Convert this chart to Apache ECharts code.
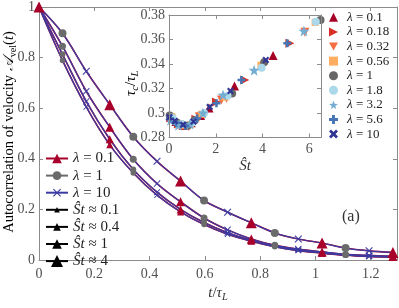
<!DOCTYPE html>
<html><head><meta charset="utf-8">
<script src="https://cdn.jsdelivr.net/npm/echarts@6/dist/echarts.min.js"></script>
<style>html,body{margin:0;padding:0;background:#fff}#c{width:399px;height:308px}</style>
</head><body><div id="c"></div>
<script>
// ---------- main plot data ----------
const tVals   = [0, 0.085, 0.171, 0.256, 0.341, 0.427, 0.512, 0.597, 0.682, 0.768, 0.853, 0.938, 1.024, 1.109, 1.194, 1.28];
const acfSt01 = [1, 0.789, 0.605, 0.455, 0.344, 0.256, 0.190, 0.140, 0.102, 0.074, 0.052, 0.037, 0.027, 0.019, 0.014, 0.011];
const acfSt04 = [1, 0.813, 0.627, 0.477, 0.358, 0.268, 0.200, 0.148, 0.108, 0.078, 0.055, 0.040, 0.029, 0.020, 0.015, 0.012];
const acfSt1  = [1, 0.845, 0.667, 0.525, 0.398, 0.302, 0.230, 0.166, 0.119, 0.083, 0.058, 0.043, 0.032, 0.022, 0.018, 0.015];
const acfSt4  = [1, 0.896, 0.746, 0.614, 0.487, 0.390, 0.312, 0.235, 0.189, 0.147, 0.107, 0.083, 0.067, 0.047, 0.036, 0.030];
const mainLegendNames = ['λ = 0.1', 'λ = 1', 'λ = 10', 'Ŝt ≈ 0.1', 'Ŝt ≈ 0.4', 'Ŝt ≈ 1', 'Ŝt ≈ 4'];

// ---------- inset data (Ŝt, τc/τL) ----------
const insetLabels = ['λ = 0.1', 'λ = 0.18', 'λ = 0.32', 'λ = 0.56', 'λ = 1', 'λ = 1.8', 'λ = 3.2', 'λ = 5.6', 'λ = 10'];
const st_l01  = [0.05, 0.3, 0.6, 0.95, 1.35, 1.71, 2.8, 4.45];
const tau_l01 = [0.297, 0.293, 0.290, 0.292, 0.298, 0.304, 0.322, 0.347];
const st_l018  = [0.08, 0.4, 0.75, 1.15, 2.03, 3.24, 5.17];
const tau_l018 = [0.296, 0.291, 0.2895, 0.295, 0.309, 0.327, 0.357];
const st_l032  = [0.1, 0.45, 0.85, 1.3, 2.24, 2.46, 5.81];
const tau_l032 = [0.295, 0.2905, 0.289, 0.297, 0.3106, 0.312, 0.366];
const st_l056  = [0.12, 0.5, 0.9, 1.4, 2.4, 3.93, 6.25];
const tau_l056 = [0.297, 0.290, 0.2905, 0.299, 0.313, 0.339, 0.374];
const st_l1  = [0.03, 0.35, 0.8, 1.1, 2.7, 4.07, 6.48];
const tau_l1 = [0.298, 0.292, 0.2895, 0.294, 0.316, 0.3414, 0.376];
const st_l18  = [0.15, 0.55, 1.0, 1.5, 2.5, 3.96, 6.28];
const tau_l18 = [0.296, 0.291, 0.292, 0.300, 0.314, 0.337, 0.3745];
const st_l32  = [0.06, 0.4, 0.9, 1.45, 2.31, 3.64, 5.77];
const tau_l32 = [0.294, 0.290, 0.291, 0.300, 0.3147, 0.335, 0.367];
const st_l56  = [0.05, 0.3, 0.7, 1.2, 2.03, 3.1, 5.06];
const tau_l56 = [0.2955, 0.292, 0.2895, 0.2955, 0.308, 0.327, 0.357];
const st_l10  = [0.02, 0.25, 0.6, 1.05, 1.74, 2.63, 4.14];
const tau_l10 = [0.2965, 0.2935, 0.2905, 0.293, 0.305, 0.318, 0.3433];

// ---------- styling ----------
const SERIF = 'Liberation Serif';
const RED = '#a8002a', GRAY = '#6b6b6b', BLUE = '#3b3ba3';
const AX = '#8c8c8c', LBL = '#505050';
const xThin = 'path://M0,1L1,0L5,4L9,0L10,1L6,5L10,9L9,10L5,6L1,10L0,9L4,5Z';
const xBold = 'path://M0,2.2L2.2,0L5,2.8L7.8,0L10,2.2L7.2,5L10,7.8L7.8,10L5,7.2L2.2,10L0,7.8L2.8,5Z';
const plusP = 'path://M3.4,0H6.6V3.4H10V6.6H6.6V10H3.4V6.6H0V3.4H3.4Z';
const starP = 'path://M5,0L6.176,3.382L9.755,3.455L6.902,5.618L7.939,9.045L5,7L2.061,9.045L3.098,5.618L0.245,3.455L3.824,3.382Z';
const triR = 'path://M0,0L10,5L0,10Z';
const triD = 'path://M0,0L10,0L5,9Z';

const chart = echarts.init(document.getElementById('c'), null, {renderer: 'canvas'});

function axisCommon(extra) {
  return Object.assign({
    axisLine: {show: true, onZero: false, lineStyle: {color: AX, width: 1}},
    axisTick: {show: true, inside: true, length: 4, lineStyle: {color: AX}},
    splitLine: {show: false},
    axisLabel: {show: false}
  }, extra);
}
const lblStyle = (m) => ({show: true, margin: m, color: LBL, fontFamily: SERIF, fontSize: 14,
  formatter: v => String(+v.toFixed(4)), showMaxLabel: false, showMinLabel: true});

const rich = (fs, col) => ({
  n: {fontFamily: SERIF, fontSize: fs, color: col},
  i: {fontFamily: SERIF, fontSize: fs, fontStyle: 'italic', color: col},
  c: {fontFamily: SERIF, fontSize: fs, fontStyle: 'italic', color: col},
  s: {fontFamily: SERIF, fontSize: fs * 0.7, fontStyle: 'italic', color: col, padding: [fs * 0.55, 0, 0, 0]},
  su: {fontFamily: SERIF, fontSize: fs * 0.7, color: col, padding: [fs * 0.55, 0, 0, 0]}
});

const series = [];
const curves = [
  {v: acfSt01, r: 7, g: 5.5, b: 6},
  {v: acfSt04, r: 8, g: 6, b: 6.5},
  {v: acfSt1, r: 9, g: 7, b: 7},
  {v: acfSt4, r: 11, g: 8, b: 7.5}
];
curves.forEach(c => series.push({type: 'line', xAxisIndex: 0, yAxisIndex: 0, silent: true,
  data: tVals.map((t, i) => [t, c.v[i]]), smooth: 0.35, symbol: 'none',
  lineStyle: {color: RED, width: 1.6}, z: 2}));
curves.forEach(c => series.push({type: 'line', xAxisIndex: 0, yAxisIndex: 0, silent: true,
  data: tVals.map((t, i) => [t, c.v[i]]), smooth: 0.35, symbol: 'none',
  lineStyle: {color: BLUE, width: 1.2}, z: 2}));
const pick = (v, off) => tVals.map((t, i) => [t, v[i]]).filter((p, i) => i % 3 === off);
curves.slice().reverse().forEach(c => {
  series.push({type: 'scatter', xAxisIndex: 0, yAxisIndex: 0, silent: true, data: pick(c.v, 1),
    symbol: 'circle', symbolSize: c.g, itemStyle: {color: GRAY, opacity: 1}, z: 3});
  series.push({type: 'scatter', xAxisIndex: 0, yAxisIndex: 0, silent: true, data: pick(c.v, 2),
    symbol: xThin, symbolSize: c.b, itemStyle: {color: BLUE, opacity: 1}, z: 3});
  series.push({type: 'scatter', xAxisIndex: 0, yAxisIndex: 0, silent: true, data: pick(c.v, 0),
    symbol: 'triangle', symbolSize: c.r, itemStyle: {color: RED, opacity: 1}, z: 3});
});

// legend-only series for main plot
const mainLeg = [
  {col: RED, sym: 'triangle', h: 12},
  {col: GRAY, sym: 'circle', h: 11},
  {col: BLUE, sym: xThin, h: 10},
  {col: '#000', sym: 'triangle', h: 7},
  {col: '#000', sym: 'triangle', h: 9.5},
  {col: '#000', sym: 'triangle', h: 12},
  {col: '#000', sym: 'triangle', h: 15}
];
mainLeg.forEach((m, k) => series.push({type: 'line', name: 'm:' + mainLegendNames[k], xAxisIndex: 0, yAxisIndex: 0,
  data: [], symbol: m.sym, itemStyle: {color: m.col}, lineStyle: {color: m.col, width: 1.5}}));

// inset series
const insetDefs = [
  {x: st_l01, y: tau_l01, col: '#a50026', sym: 'triangle', s: 9},
  {x: st_l018, y: tau_l018, col: '#d73027', sym: triR, s: 9},
  {x: st_l032, y: tau_l032, col: '#f46d43', sym: triD, s: 9},
  {x: st_l056, y: tau_l056, col: '#fdae61', sym: 'rect', s: 7},
  {x: st_l1, y: tau_l1, col: '#676767', sym: 'circle', s: 8},
  {x: st_l18, y: tau_l18, col: '#abd9e9', sym: 'circle', s: 8},
  {x: st_l32, y: tau_l32, col: '#74add1', sym: starP, s: 11},
  {x: st_l56, y: tau_l56, col: '#4575b4', sym: plusP, s: 8},
  {x: st_l10, y: tau_l10, col: '#313695', sym: xBold, s: 7}
];
insetDefs.forEach((d, k) => series.push({type: 'scatter', name: insetLabels[k], xAxisIndex: 2, yAxisIndex: 2,
  data: d.x.map((x, i) => [x, d.y[i]]), symbol: d.sym, symbolSize: d.s,
  itemStyle: {color: d.col, opacity: 1}, z: 5}));

const fmtLeg = name => {
  const s = name.replace('m:', '');
  if (s.startsWith('λ')) return '{i|λ}' + s.slice(1);
  return '{i|Ŝt}' + s.slice(2);
};
const legends = mainLeg.map((m, k) => ({
  data: ['m:' + mainLegendNames[k]], left: 45, top: 158.5 + 17.1 * k - 8, padding: 0,
  itemWidth: 22, itemHeight: m.h, formatter: fmtLeg, selectedMode: false,
  textStyle: {fontFamily: SERIF, fontSize: 15, color: '#222', lineHeight: 16, rich: rich(15, '#222')}
}));
legends.push({
  data: insetLabels.map((n, k) => ({name: n, icon: insetDefs[k].sym})),
  orient: 'vertical', left: 329, top: 10.3, padding: 0,
  itemWidth: 9, itemHeight: 9, itemGap: 0.6, symbolKeepAspect: true,
  formatter: fmtLeg, selectedMode: false,
  textStyle: {fontFamily: SERIF, fontSize: 13, color: '#222', lineHeight: 14, padding: [0, 0, 0, 4], rich: rich(13, '#222')}
});

const option = {
  animation: false,
  backgroundColor: '#fff',
  grid: [
    {left: 39, top: 6, width: 358, height: 262.5},
    {left: 169, top: 15, width: 152, height: 122.5, show: true, backgroundColor: '#fff', borderWidth: 0, z: 4}
  ],
  xAxis: [
    axisCommon({gridIndex: 0, type: 'value', min: 0, max: 1.295, interval: 0.2, position: 'bottom',
      axisLabel: lblStyle(7), name: '{i|t}{n|/}{i|τ}{s|L}', nameLocation: 'middle', nameGap: 22,
      nameTextStyle: {rich: rich(15, '#333')}}),
    axisCommon({gridIndex: 0, type: 'value', min: 0, max: 1.295, interval: 0.2, position: 'top'}),
    axisCommon({gridIndex: 1, type: 'value', min: 0, max: 6.5, interval: 2, position: 'bottom', z: 6,
      axisLabel: lblStyle(5), name: '{i|Ŝt}', nameLocation: 'middle', nameGap: 21,
      nameTextStyle: {rich: rich(15, '#333')}}),
    axisCommon({gridIndex: 1, type: 'value', min: 0, max: 6.5, interval: 2, position: 'top', z: 6})
  ],
  yAxis: [
    axisCommon({gridIndex: 0, type: 'value', min: 0, max: 1, interval: 0.2, position: 'left',
      axisLabel: Object.assign(lblStyle(4), {showMaxLabel: true})}),
    axisCommon({gridIndex: 0, type: 'value', min: 0, max: 1, interval: 0.2, position: 'right'}),
    axisCommon({gridIndex: 1, type: 'value', min: 0.28, max: 0.38, interval: 0.02, position: 'left', z: 6,
      axisLabel: Object.assign(lblStyle(4), {showMaxLabel: true})}),
    axisCommon({gridIndex: 1, type: 'value', min: 0.28, max: 0.38, interval: 0.02, position: 'right', z: 6})
  ],
  legend: legends,
  graphic: [
    {type: 'text', left: 342, top: 209, style: {text: '(a)', font: '16px "Liberation Serif"', fill: '#333'}},
    {type: 'text', x: 9, y: 132, rotation: Math.PI / 2, z: 10,
      style: {text: '{n|Autocorrelation of velocity }{c|𝒜}{su|vel}{n|(}{i|t}{n|)}', align: 'center', verticalAlign: 'middle',
        rich: rich(14.5, '#333')}},
    {type: 'text', x: 131, y: 96, rotation: Math.PI / 2, z: 10,
      style: {text: '{i|τ}{s|c}{n|/}{i|τ}{s|L}', align: 'left', verticalAlign: 'middle', rich: rich(15, '#333')}}
  ],
  series: series
};
chart.setOption(option);
</script></body></html>
